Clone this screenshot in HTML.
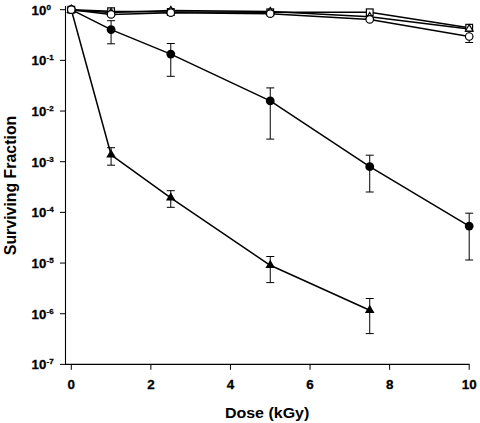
<!DOCTYPE html>
<html><head><meta charset="utf-8"><style>
html,body{margin:0;padding:0;background:#fff;width:480px;height:423px;overflow:hidden}
svg{display:block}
text{font-family:"Liberation Sans",sans-serif;font-weight:bold;fill:#000}
.t{stroke:#000;stroke-width:0.3}
</style></head><body>
<svg width="480" height="423" viewBox="0 0 480 423">
<path d="M65.5 5.9V364.4H469.6" fill="none" stroke="#000" stroke-width="1.1"/>
<path d="M60 9.7H65.5" stroke="#000" stroke-width="1"/>
<path d="M60 60.37H65.5" stroke="#000" stroke-width="1"/>
<path d="M60 111.04H65.5" stroke="#000" stroke-width="1"/>
<path d="M60 161.71H65.5" stroke="#000" stroke-width="1"/>
<path d="M60 212.38H65.5" stroke="#000" stroke-width="1"/>
<path d="M60 263.05H65.5" stroke="#000" stroke-width="1"/>
<path d="M60 313.72H65.5" stroke="#000" stroke-width="1"/>
<path d="M60 364.39H65.5" stroke="#000" stroke-width="1"/>
<path d="M71.3 364.4V369.8" stroke="#000" stroke-width="1"/>
<path d="M150.88 364.4V369.8" stroke="#000" stroke-width="1"/>
<path d="M230.46 364.4V369.8" stroke="#000" stroke-width="1"/>
<path d="M310.04 364.4V369.8" stroke="#000" stroke-width="1"/>
<path d="M389.62 364.4V369.8" stroke="#000" stroke-width="1"/>
<path d="M469.2 364.4V369.8" stroke="#000" stroke-width="1"/>
<text class="t" x="71.3" y="388.7" text-anchor="middle" font-size="13.4">0</text>
<text class="t" x="150.88" y="388.7" text-anchor="middle" font-size="13.4">2</text>
<text class="t" x="230.46" y="388.7" text-anchor="middle" font-size="13.4">4</text>
<text class="t" x="310.04" y="388.7" text-anchor="middle" font-size="13.4">6</text>
<text class="t" x="389.62" y="388.7" text-anchor="middle" font-size="13.4">8</text>
<text class="t" x="469.2" y="388.7" text-anchor="middle" font-size="13.4">10</text>
<text class="t" x="31.6" y="14.6" font-size="13.2">10</text>
<text class="t" x="46.5" y="9.5" font-size="8">0</text>
<text class="t" x="31.6" y="65.27" font-size="13.2">10</text>
<text class="t" x="46.5" y="60.17" font-size="8">-1</text>
<text class="t" x="31.6" y="115.94" font-size="13.2">10</text>
<text class="t" x="46.5" y="110.84" font-size="8">-2</text>
<text class="t" x="31.6" y="166.61" font-size="13.2">10</text>
<text class="t" x="46.5" y="161.51" font-size="8">-3</text>
<text class="t" x="31.6" y="217.28" font-size="13.2">10</text>
<text class="t" x="46.5" y="212.18" font-size="8">-4</text>
<text class="t" x="31.6" y="267.95" font-size="13.2">10</text>
<text class="t" x="46.5" y="262.85" font-size="8">-5</text>
<text class="t" x="31.6" y="318.62" font-size="13.2">10</text>
<text class="t" x="46.5" y="313.52" font-size="8">-6</text>
<text class="t" x="31.6" y="369.29" font-size="13.2">10</text>
<text class="t" x="46.5" y="364.19" font-size="8">-7</text>
<text transform="translate(224.9 418.4) scale(1 0.95)" font-size="16">Dose (kGy)</text>
<text transform="translate(16 255.2) rotate(-90)" x="0" y="0" font-size="15.9">Surviving Fraction</text>
<polyline points="71.3,9.7 111.09,11.2 170.77,12 270.25,12.3 369.73,12.3 469.2,27.7" fill="none" stroke="#000" stroke-width="1.5" stroke-linejoin="round"/>
<polyline points="71.3,9.9 111.09,12.5 170.77,10.6 270.25,11.6 369.73,16.8 469.2,28.9" fill="none" stroke="#000" stroke-width="1.5" stroke-linejoin="round"/>
<polyline points="71.3,9.7 111.09,14.4 170.77,12.7 270.25,13.7 369.73,19.4 469.2,36.5" fill="none" stroke="#000" stroke-width="1.5" stroke-linejoin="round"/>
<polyline points="71.3,9.7 111.09,29.6 170.77,54.1 270.25,100.9 369.73,166.7 469.2,226.1" fill="none" stroke="#000" stroke-width="1.5" stroke-linejoin="round"/>
<polyline points="71.3,9.7 111.09,154.8 170.77,197.8 270.25,265.3 369.73,310.3" fill="none" stroke="#000" stroke-width="1.5" stroke-linejoin="round"/>
<path d="M111.09 20.7V43.8M107.09 20.7H115.09M107.09 43.8H115.09" stroke="#000" stroke-width="1.0" fill="none"/>
<path d="M170.77 43.5V76.3M166.77 43.5H174.77M166.77 76.3H174.77" stroke="#000" stroke-width="1.0" fill="none"/>
<path d="M270.25 87.9V139.1M266.25 87.9H274.25M266.25 139.1H274.25" stroke="#000" stroke-width="1.0" fill="none"/>
<path d="M369.73 155.2V192M365.73 155.2H373.73M365.73 192H373.73" stroke="#000" stroke-width="1.0" fill="none"/>
<path d="M469.2 213.2V260M465.2 213.2H473.2M465.2 260H473.2" stroke="#000" stroke-width="1.0" fill="none"/>
<path d="M111.09 147.7V165.2M107.09 147.7H115.09M107.09 165.2H115.09" stroke="#000" stroke-width="1.0" fill="none"/>
<path d="M170.77 190.7V207.3M166.77 190.7H174.77M166.77 207.3H174.77" stroke="#000" stroke-width="1.0" fill="none"/>
<path d="M270.25 256.5V282.6M266.25 256.5H274.25M266.25 282.6H274.25" stroke="#000" stroke-width="1.0" fill="none"/>
<path d="M369.73 298.5V333.6M365.73 298.5H373.73M365.73 333.6H373.73" stroke="#000" stroke-width="1.0" fill="none"/>
<path d="M469.2 31V42.5M465.2 31H473.2M465.2 42.5H473.2" stroke="#000" stroke-width="1.0" fill="none"/>
<path d="M71.3 4.1L76.1 12.5L66.5 12.5Z" fill="#000"/>
<path d="M111.09 149.2L115.89 157.6L106.29 157.6Z" fill="#000"/>
<path d="M170.77 192.2L175.57 200.6L165.97 200.6Z" fill="#000"/>
<path d="M270.25 259.7L275.05 268.1L265.45 268.1Z" fill="#000"/>
<path d="M369.73 304.7L374.53 313.1L364.93 313.1Z" fill="#000"/>
<circle cx="71.3" cy="9.7" r="4.4" fill="#000"/>
<circle cx="111.09" cy="29.6" r="4.4" fill="#000"/>
<circle cx="170.77" cy="54.1" r="4.4" fill="#000"/>
<circle cx="270.25" cy="100.9" r="4.4" fill="#000"/>
<circle cx="369.73" cy="166.7" r="4.4" fill="#000"/>
<circle cx="469.2" cy="226.1" r="4.4" fill="#000"/>
<rect x="67.95" y="6.35" width="6.7" height="6.7" fill="#fff" stroke="#000" stroke-width="1.2"/>
<rect x="107.74" y="7.85" width="6.7" height="6.7" fill="#fff" stroke="#000" stroke-width="1.2"/>
<rect x="167.42" y="8.65" width="6.7" height="6.7" fill="#fff" stroke="#000" stroke-width="1.2"/>
<rect x="266.9" y="8.95" width="6.7" height="6.7" fill="#fff" stroke="#000" stroke-width="1.2"/>
<rect x="366.38" y="8.95" width="6.7" height="6.7" fill="#fff" stroke="#000" stroke-width="1.2"/>
<rect x="465.85" y="24.35" width="6.7" height="6.7" fill="#fff" stroke="#000" stroke-width="1.2"/>
<path d="M71.3 5.63L75.1 12.03L67.5 12.03Z" fill="#fff" stroke="#000" stroke-width="1.2" stroke-linejoin="miter"/>
<path d="M111.09 8.23L114.89 14.63L107.29 14.63Z" fill="#fff" stroke="#000" stroke-width="1.2" stroke-linejoin="miter"/>
<path d="M170.77 6.33L174.57 12.73L166.97 12.73Z" fill="#fff" stroke="#000" stroke-width="1.2" stroke-linejoin="miter"/>
<path d="M270.25 7.33L274.05 13.73L266.45 13.73Z" fill="#fff" stroke="#000" stroke-width="1.2" stroke-linejoin="miter"/>
<path d="M369.73 12.53L373.53 18.93L365.93 18.93Z" fill="#fff" stroke="#000" stroke-width="1.2" stroke-linejoin="miter"/>
<path d="M469.2 24.63L473 31.03L465.4 31.03Z" fill="#fff" stroke="#000" stroke-width="1.2" stroke-linejoin="miter"/>
<circle cx="71.3" cy="9.7" r="3.75" fill="#fff" stroke="#000" stroke-width="1.2"/>
<circle cx="111.09" cy="14.4" r="3.75" fill="#fff" stroke="#000" stroke-width="1.2"/>
<circle cx="170.77" cy="12.7" r="3.75" fill="#fff" stroke="#000" stroke-width="1.2"/>
<circle cx="270.25" cy="13.7" r="3.75" fill="#fff" stroke="#000" stroke-width="1.2"/>
<circle cx="369.73" cy="19.4" r="3.75" fill="#fff" stroke="#000" stroke-width="1.2"/>
<circle cx="469.2" cy="36.5" r="3.75" fill="#fff" stroke="#000" stroke-width="1.2"/>
</svg>
</body></html>
